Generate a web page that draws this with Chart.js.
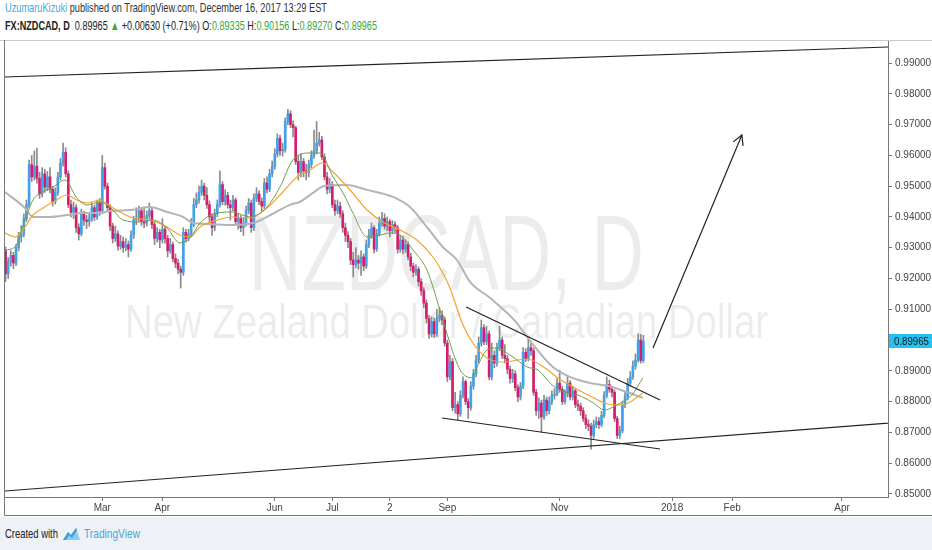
<!DOCTYPE html>
<html>
<head>
<meta charset="utf-8">
<script src="https://cdn.jsdelivr.net/npm/chart.js@4.4.0/dist/chart.umd.min.js"></script>
<style>
  html, body { margin:0; padding:0; background:#fff; }
  body { width:932px; height:550px; position:relative; overflow:hidden;
         font-family:"Liberation Sans",Arial,sans-serif; }
  .fit { position:absolute; white-space:nowrap; transform-origin:0 0; }
  #head1 { left:5px; top:0px; font-size:13px; color:#333; }
  #head2 { left:5px; top:18px; font-size:13px; color:#222; }
  .user { color:#4aa6dd; }
  .grn { color:#35a83a; }
  #box { position:absolute; left:0; top:40px; width:932px; height:477px; }
  #foot { position:absolute; left:0; top:517px; width:932px; height:33px; background:#eef1f6; }
  #madeWith { left:5px; top:9px; font-size:13px; color:#222; }
  #foot svg { position:absolute; left:62px; top:9px; }
  #tvName { left:84px; top:9px; font-size:13px; color:#4aa6dd; }
</style>
</head>
<body>
<div id="head1" class="fit"><span class="user">UzumaruKizuki</span> published on TradingView.com, December 16, 2017 13:29 EST</div>
<div id="head2" class="fit"><b>FX:NZDCAD, D</b>&nbsp; 0.89965 <span class="grn">&#9650;</span> +0.00630 (+0.71%) O:<span class="grn">0.89335</span> H:<span class="grn">0.90156</span> L:<span class="grn">0.89270</span> C:<span class="grn">0.89965</span></div>
<div id="box"><canvas id="myChart" width="932" height="477"></canvas></div>
<div id="foot">
  <span id="madeWith" class="fit">Created with</span>
  <svg width="19" height="15" viewBox="0 0 19 15"><path d="M1 14 L6 6 L9 9 L14 2 L18 14 Z" fill="#8fcaf0"/><path d="M1 14 L6 6 L9 9 L14 2 L15 4 L10 12 L7 9 L4 14 Z" fill="#3a9ee0"/></svg>
  <span id="tvName" class="fit">TradingView</span>
</div>
<script>
// daily candles, weekday index counted from 2 Jan 2017
var firstDay = 5
var opens = [
0.9290,0.9215,0.9255,0.9275,0.9250,0.9300,0.9335,0.9345,0.9395,0.9440,
0.9570,0.9530,0.9565,0.9525,0.9475,0.9540,0.9497,0.9530,0.9490,0.9450,
0.9480,0.9530,0.9575,0.9610,0.9540,0.9440,0.9415,0.9430,0.9365,0.9345,
0.9410,0.9390,0.9385,0.9395,0.9430,0.9400,0.9445,0.9420,0.9560,0.9500,
0.9430,0.9370,0.9330,0.9345,0.9305,0.9320,0.9300,0.9310,0.9295,0.9340,
0.9390,0.9395,0.9420,0.9385,0.9380,0.9405,0.9420,0.9375,0.9330,0.9350,
0.9325,0.9360,0.9330,0.9290,0.9310,0.9265,0.9250,0.9230,0.9220,0.9350,
0.9330,0.9345,0.9375,0.9440,0.9455,0.9480,0.9500,0.9470,0.9440,0.9400,
0.9365,0.9410,0.9440,0.9505,0.9450,0.9470,0.9440,0.9430,0.9455,0.9385,
0.9395,0.9365,0.9380,0.9420,0.9445,0.9365,0.9460,0.9475,0.9450,0.9435,
0.9510,0.9490,0.9540,0.9565,0.9605,0.9655,0.9615,0.9620,0.9710,0.9735,
0.9700,0.9690,0.9580,0.9545,0.9580,0.9550,0.9545,0.9570,0.9600,0.9615,
0.9640,0.9650,0.9595,0.9530,0.9490,0.9505,0.9440,0.9420,0.9435,0.9410,
0.9365,0.9340,0.9320,0.9260,0.9245,0.9260,0.9250,0.9270,0.9240,0.9310,
0.9340,0.9365,0.9295,0.9345,0.9380,0.9395,0.9370,0.9385,0.9355,0.9375,
0.9365,0.9295,0.9325,0.9295,0.9310,0.9270,0.9240,0.9220,0.9230,0.9190,
0.9160,0.9120,0.9070,0.9020,0.9060,0.9020,0.9070,0.9080,0.9065,0.8990,
0.8880,0.8930,0.8780,0.8790,0.8760,0.8820,0.8865,0.8800,0.8780,0.8850,
0.8890,0.8935,0.8990,0.9040,0.8995,0.9020,0.8880,0.8950,0.8925,0.8975,
0.9000,0.8950,0.8940,0.8905,0.8875,0.8890,0.8845,0.8815,0.8850,0.8960,
0.8940,0.8975,0.8965,0.8830,0.8770,0.8795,0.8750,0.8805,0.8770,0.8800,
0.8820,0.8825,0.8860,0.8840,0.8800,0.8825,0.8860,0.8815,0.8835,0.8790,
0.8785,0.8770,0.8745,0.8725,0.8720,0.8690,0.8725,0.8735,0.8725,0.8755,
0.8820,0.8855,0.8840,0.8830,0.8745,0.8690,0.8705,0.8790,0.8815,0.8860,
0.8880,0.8915,0.8935,0.9000,0.89335]
var highs = [
0.9302,0.9268,0.9290,0.9285,0.9310,0.9350,0.9372,0.9410,0.9455,0.9585,
0.9600,0.9615,0.9624,0.9545,0.9560,0.9555,0.9548,0.9560,0.9500,0.9495,
0.9545,0.9590,0.9640,0.9625,0.9550,0.9455,0.9448,0.9440,0.9378,0.9425,
0.9418,0.9405,0.9415,0.9445,0.9438,0.9455,0.9460,0.9600,0.9575,0.9510,
0.9440,0.9380,0.9370,0.9355,0.9340,0.9335,0.9330,0.9322,0.9355,0.9402,
0.9430,0.9435,0.9430,0.9432,0.9420,0.9445,0.9430,0.9385,0.9365,0.9360,
0.9395,0.9370,0.9340,0.9330,0.9318,0.9280,0.9262,0.9240,0.9365,0.9360,
0.9360,0.9395,0.9460,0.9478,0.9500,0.9520,0.9510,0.9495,0.9452,0.9410,
0.9425,0.9455,0.9550,0.9515,0.9488,0.9480,0.9455,0.9470,0.9462,0.9410,
0.9405,0.9398,0.9435,0.9460,0.9455,0.9475,0.9495,0.9485,0.9462,0.9525,
0.9530,0.9555,0.9582,0.9622,0.9670,0.9665,0.9640,0.9722,0.9750,0.9745,
0.9712,0.9695,0.9600,0.9605,0.9590,0.9572,0.9585,0.9615,0.9682,0.9710,
0.9675,0.9662,0.9605,0.9545,0.9525,0.9515,0.9455,0.9455,0.9448,0.9420,
0.9380,0.9352,0.9330,0.9285,0.9300,0.9275,0.9290,0.9280,0.9325,0.9360,
0.9380,0.9372,0.9360,0.9400,0.9415,0.9410,0.9400,0.9392,0.9388,0.9385,
0.9372,0.9340,0.9338,0.9325,0.9318,0.9282,0.9250,0.9245,0.9238,0.9200,
0.9170,0.9130,0.9080,0.9075,0.9072,0.9100,0.9105,0.9095,0.9075,0.9000,
0.8950,0.8940,0.8830,0.8800,0.8835,0.8880,0.8870,0.8810,0.8865,0.8905,
0.8950,0.9010,0.9065,0.9050,0.9045,0.9030,0.8990,0.8965,0.8990,0.9045,
0.9010,0.8985,0.8950,0.8915,0.8905,0.8900,0.8855,0.8862,0.8975,0.8972,
0.9010,0.8988,0.8975,0.8840,0.8812,0.8805,0.8820,0.8815,0.8815,0.8835,
0.8842,0.8875,0.8902,0.8850,0.8838,0.8880,0.8868,0.8850,0.8842,0.8805,
0.8795,0.8780,0.8758,0.8740,0.8730,0.8740,0.8750,0.8748,0.8768,0.8832,
0.8880,0.8870,0.8850,0.8838,0.8752,0.8720,0.8800,0.8830,0.8875,0.8898,
0.8932,0.8955,0.9020,0.9018,0.90156]
var lows = [
0.9190,0.9200,0.9240,0.9232,0.9242,0.9290,0.9318,0.9335,0.9385,0.9430,
0.9515,0.9520,0.9510,0.9460,0.9465,0.9480,0.9485,0.9478,0.9435,0.9442,
0.9470,0.9520,0.9565,0.9530,0.9430,0.9400,0.9395,0.9350,0.9325,0.9338,
0.9372,0.9362,0.9370,0.9385,0.9388,0.9392,0.9405,0.9410,0.9490,0.9420,
0.9355,0.9315,0.9320,0.9292,0.9295,0.9285,0.9290,0.9270,0.9288,0.9330,
0.9375,0.9385,0.9372,0.9365,0.9370,0.9395,0.9362,0.9310,0.9318,0.9300,
0.9315,0.9315,0.9270,0.9282,0.9255,0.9235,0.9215,0.9169,0.9210,0.9318,
0.9322,0.9335,0.9368,0.9430,0.9445,0.9470,0.9455,0.9428,0.9385,0.9340,
0.9355,0.9400,0.9432,0.9440,0.9438,0.9428,0.9390,0.9420,0.9375,0.9360,
0.9352,0.9340,0.9370,0.9410,0.9350,0.9355,0.9450,0.9440,0.9420,0.9428,
0.9478,0.9482,0.9530,0.9555,0.9595,0.9600,0.9598,0.9610,0.9700,0.9690,
0.9660,0.9570,0.9520,0.9530,0.9530,0.9520,0.9530,0.9560,0.9590,0.9605,
0.9630,0.9585,0.9520,0.9475,0.9478,0.9430,0.9405,0.9410,0.9398,0.9350,
0.9320,0.9300,0.9245,0.9205,0.9235,0.9230,0.9210,0.9225,0.9232,0.9300,
0.9330,0.9282,0.9288,0.9338,0.9370,0.9360,0.9355,0.9335,0.9345,0.9350,
0.9282,0.9285,0.9280,0.9285,0.9260,0.9225,0.9205,0.9210,0.9175,0.9145,
0.9105,0.9055,0.9005,0.9010,0.9008,0.9012,0.9060,0.9050,0.8980,0.8865,
0.8870,0.8770,0.8762,0.8740,0.8752,0.8812,0.8790,0.8745,0.8772,0.8840,
0.8880,0.8925,0.8980,0.8985,0.8985,0.8870,0.8870,0.8910,0.8915,0.8965,
0.8940,0.8925,0.8890,0.8860,0.8862,0.8835,0.8800,0.8805,0.8842,0.8930,
0.8932,0.8950,0.8820,0.8755,0.8745,0.8700,0.8742,0.8755,0.8760,0.8790,
0.8808,0.8818,0.8830,0.8790,0.8792,0.8815,0.8805,0.8805,0.8780,0.8770,
0.8755,0.8735,0.8712,0.8705,0.8645,0.8680,0.8715,0.8712,0.8718,0.8748,
0.8812,0.8830,0.8815,0.8735,0.8680,0.8680,0.8698,0.8780,0.8805,0.8850,
0.8872,0.8905,0.8928,0.8925,0.8927]
var closes = [
0.9215,0.9255,0.9275,0.9250,0.9300,0.9335,0.9345,0.9395,0.9440,0.9570,
0.9530,0.9565,0.9525,0.9475,0.9540,0.9497,0.9530,0.9490,0.9450,0.9480,
0.9530,0.9575,0.9610,0.9540,0.9440,0.9415,0.9430,0.9365,0.9345,0.9410,
0.9390,0.9385,0.9395,0.9430,0.9400,0.9445,0.9420,0.9560,0.9500,0.9430,
0.9370,0.9330,0.9345,0.9305,0.9320,0.9300,0.9310,0.9295,0.9340,0.9390,
0.9395,0.9420,0.9385,0.9380,0.9405,0.9420,0.9375,0.9330,0.9350,0.9325,
0.9360,0.9330,0.9290,0.9310,0.9265,0.9250,0.9230,0.9220,0.9350,0.9330,
0.9345,0.9375,0.9440,0.9455,0.9480,0.9500,0.9470,0.9440,0.9400,0.9365,
0.9410,0.9440,0.9505,0.9450,0.9470,0.9440,0.9430,0.9455,0.9385,0.9395,
0.9365,0.9380,0.9420,0.9445,0.9365,0.9460,0.9475,0.9450,0.9435,0.9510,
0.9490,0.9540,0.9565,0.9605,0.9655,0.9615,0.9620,0.9710,0.9735,0.9700,
0.9690,0.9580,0.9545,0.9580,0.9550,0.9545,0.9570,0.9600,0.9615,0.9640,
0.9650,0.9595,0.9530,0.9490,0.9505,0.9440,0.9420,0.9435,0.9410,0.9365,
0.9340,0.9320,0.9260,0.9245,0.9260,0.9250,0.9270,0.9240,0.9310,0.9340,
0.9365,0.9295,0.9345,0.9380,0.9395,0.9370,0.9385,0.9355,0.9375,0.9365,
0.9295,0.9325,0.9295,0.9310,0.9270,0.9240,0.9220,0.9230,0.9190,0.9160,
0.9120,0.9070,0.9020,0.9060,0.9020,0.9070,0.9080,0.9065,0.8990,0.8880,
0.8930,0.8780,0.8790,0.8760,0.8820,0.8865,0.8800,0.8780,0.8850,0.8890,
0.8935,0.8990,0.9040,0.8995,0.9020,0.8880,0.8950,0.8925,0.8975,0.9000,
0.8950,0.8940,0.8905,0.8875,0.8890,0.8845,0.8815,0.8850,0.8960,0.8940,
0.8975,0.8965,0.8830,0.8770,0.8795,0.8750,0.8805,0.8770,0.8800,0.8820,
0.8825,0.8860,0.8840,0.8800,0.8825,0.8860,0.8815,0.8835,0.8790,0.8785,
0.8770,0.8745,0.8725,0.8720,0.8690,0.8725,0.8735,0.8725,0.8755,0.8820,
0.8855,0.8840,0.8830,0.8745,0.8690,0.8705,0.8790,0.8815,0.8860,0.8880,
0.8915,0.8935,0.9000,0.89335,0.89965]

// moving averages (day index, value)
var fastX = [4.78,8.6,12.43,15.49,19.32,23.14,27.7,32.3,36.2,41.1,44.95,49.9,56.4,61.4,66.8,71.7,75.6,79.4,85.9,92.0,98.5,105.0,110.0,114.9,121.5,125.3,130.3,134.1,137.9,143.3,148.2,152.1,155.9,160.9,166.2,171.2,175.0,178.9,183.4,185.4,189.2,193.0,196.8,200.7,204.5,208.7,214.1,219.0,224.0,229.3,234.3,237.4,242.0,244.6,248.8]
var fastY = [0.92925,0.93023,0.939,0.9455,0.9481,0.94973,0.952,0.94615,0.94388,0.94485,0.9432,0.939,0.93835,0.939,0.9364,0.93153,0.93315,0.93803,0.94128,0.9416,0.93998,0.9432,0.94973,0.9585,0.96078,0.96078,0.95298,0.94778,0.94128,0.93348,0.93413,0.93478,0.93413,0.92925,0.92275,0.90975,0.89903,0.89028,0.8877,0.89123,0.89675,0.8974,0.89578,0.8935,0.89123,0.89025,0.88538,0.8831,0.88213,0.87985,0.87725,0.87823,0.8805,0.88213,0.88765]
var midX = [4.78,8.6,12.43,15.49,19.32,23.14,28.5,32.3,36.2,41.1,46.1,53.8,60.3,66.8,71.7,75.6,79.4,85.9,92.0,98.5,105.0,111.1,116.5,121.5,126.1,130.3,136.8,143.3,149.4,155.9,162.4,168.5,172.3,175.0,180.0,183.8,189.2,195.3,204.5,211.4,216.3,222.8,229.3,235.5,240.8,244.6,248.8]
var midY = [0.93478,0.93348,0.93673,0.94063,0.9429,0.94485,0.94713,0.9455,0.94453,0.9455,0.9429,0.93965,0.939,0.93673,0.93413,0.93348,0.93673,0.939,0.93998,0.93965,0.9429,0.9481,0.95298,0.95525,0.95753,0.9546,0.94875,0.94225,0.93835,0.93575,0.9325,0.92698,0.92178,0.9169,0.90488,0.89903,0.89415,0.89285,0.89383,0.8909,0.88765,0.8844,0.88148,0.8792,0.87888,0.88018,0.88278]
var slowX = [4.78,12.43,15.49,22.0,28.5,34.6,41.1,44.95,53.8,60.3,66.8,72.9,76.7,82.1,92.0,99.7,105.0,113.8,117.6,122.6,127.2,135.6,143.3,153.2,159.7,166.2,172.3,177.7,182.7,190.3,199.9,204.5,214.4,220.9,228.6,235.5,242.7,248.8]
var slowY = [0.9481,0.9429,0.94,0.94,0.9406,0.9413,0.9413,0.9419,0.9423,0.9432,0.9416,0.94,0.938,0.9377,0.9374,0.938,0.94,0.9439,0.9449,0.9478,0.9501,0.9504,0.9488,0.9465,0.9432,0.9367,0.9302,0.926,0.9189,0.9137,0.9062,0.901,0.8912,0.888,0.886,0.8851,0.8831,0.8812]

// drawn lines (day index, price)
var topLineX = [0, 350], topLineY = [0.98534, 0.99544]
var baseLineX = [0, 350], baseLineY = [0.85061, 0.87350]
var wedgeHiX = [181.2, 255.4], wedgeHiY = [0.91073, 0.88050]
var wedgeLoX = [172.0, 255.4], wedgeLoY = [0.87465, 0.86458]
var arrowX = [252.7, 286.7], arrowY = [0.89740, 0.96663]

var xTickPos = [42, 65, 108, 130, 152, 174, 217, 260, 283, 325]
var xTickText = ['Mar', 'Apr', 'Jun', 'Jul', '2', 'Sep', 'Nov', '2018', 'Feb', 'Apr']
var yTicks = [0.85, 0.86, 0.87, 0.88, 0.89, 0.91, 0.92, 0.93, 0.94, 0.95, 0.96, 0.97, 0.98, 0.99]
var xMin = 4.78, xMax = 342.6, yMin = 0.84898, yMax = 0.9975

var upColor = '#3fa2ea', downColor = '#d81b6a', wickColor = '#8a8a8a'
var narrow = '"Liberation Sans", Arial, sans-serif'

// squeeze html text to the widths of the condensed original
function fitText(id, w) {
  var el = document.getElementById(id)
  var r = el.getBoundingClientRect().width
  el.style.transform = 'scaleX(' + (w / r) + ')'
}
fitText('head1', 322)
fitText('head2', 372)
fitText('madeWith', 53)
fitText('tvName', 56)

function pts(xs, ys) {
  return xs.map(function (x, i) { return {x: x, y: ys[i]} })
}

var wickData = [], bodyData = [], bodyColors = []
for (var i = 0; i < closes.length; i++) {
  wickData.push({x: firstDay + i, y: [lows[i], highs[i]]})
  bodyData.push({x: firstDay + i, y: [opens[i], closes[i]]})
  bodyColors.push(closes[i] >= opens[i] ? upColor : downColor)
}

function lineSet(data, color, width, order) {
  return {type: 'line', data: data, borderColor: color, borderWidth: width, pointRadius: 0,
          fill: false, cubicInterpolationMode: 'monotone', order: order}
}

function drawFit(ctx, text, size, width, cx, base) {
  ctx.font = size + 'px ' + narrow
  var w = ctx.measureText(text).width
  ctx.save()
  ctx.translate(cx, base)
  ctx.scale(width / w, 1)
  ctx.fillText(text, 0, 0)
  ctx.restore()
}

var watermark = {
  id: 'watermark',
  beforeDatasetsDraw: function (chart) {
    var ctx = chart.ctx, a = chart.chartArea
    var cx = (a.left + a.right) / 2
    ctx.save()
    ctx.fillStyle = 'rgba(0,0,0,0.075)'
    ctx.textAlign = 'center'
    ctx.textBaseline = 'alphabetic'
    drawFit(ctx, 'NZDCAD, D', 108, 395, cx, 250)
    drawFit(ctx, 'New Zealand Dollar / Canadian Dollar', 49, 643, cx, 298)
    ctx.restore()
  }
}

var extras = {
  id: 'extras',
  afterDatasetsDraw: function (chart) {
    var ctx = chart.ctx, xs = chart.scales.x, ys = chart.scales.y
    var x0 = xs.getPixelForValue(arrowX[0]), y0 = ys.getPixelForValue(arrowY[0])
    var x1 = xs.getPixelForValue(arrowX[1]), y1 = ys.getPixelForValue(arrowY[1])
    var ang = Math.atan2(y1 - y0, x1 - x0)
    ctx.save()
    ctx.strokeStyle = '#222'
    ctx.lineWidth = 1.2
    ctx.beginPath()
    ctx.moveTo(x1 - 11 * Math.cos(ang - 0.5), y1 - 11 * Math.sin(ang - 0.5))
    ctx.lineTo(x1, y1)
    ctx.lineTo(x1 - 11 * Math.cos(ang + 0.5), y1 - 11 * Math.sin(ang + 0.5))
    ctx.stroke()
    ctx.restore()
  },
  afterDraw: function (chart) {
    var ctx = chart.ctx, a = chart.chartArea, ys = chart.scales.y
    ctx.save()
    ctx.strokeStyle = '#c9c9c9'
    ctx.lineWidth = 1
    ctx.beginPath()
    ctx.moveTo(0, 0.5); ctx.lineTo(932, 0.5)
    ctx.stroke()
    ctx.strokeStyle = '#777'
    ctx.beginPath()
    ctx.moveTo(a.left - 0.5, 0); ctx.lineTo(a.left - 0.5, a.bottom + 18.5)
    ctx.moveTo(a.left - 0.5, a.bottom + 18.5); ctx.lineTo(932, a.bottom + 18.5)
    ctx.stroke()
    // last price marker
    var last = closes[closes.length - 1]
    var py = Math.round(ys.getPixelForValue(last))
    ctx.fillStyle = '#27c1f1'
    ctx.fillRect(a.right + 1, py - 7, 932 - a.right - 1, 14)
    ctx.fillStyle = '#1a1a1a'
    ctx.textBaseline = 'middle'
    ctx.textAlign = 'left'
    drawFitLeft(ctx, last.toFixed(5), 11, 35, a.right + 6, py + 0.5)
    ctx.restore()
  }
}

function drawFitLeft(ctx, text, size, width, x, y) {
  ctx.font = size + 'px ' + narrow
  var w = ctx.measureText(text).width
  ctx.save()
  ctx.translate(x, y)
  ctx.scale(width / w, 1)
  ctx.fillText(text, 0, 0)
  ctx.restore()
}

new Chart('myChart', {
  type: 'bar',
  data: {
    datasets: [
      {type: 'bar', data: wickData, backgroundColor: wickColor, barThickness: 1, grouped: false, order: 20},
      {type: 'bar', data: bodyData, backgroundColor: bodyColors, barThickness: 2, minBarLength: 1, grouped: false, order: 19},
      lineSet(pts(slowX, slowY), '#b4b4b4', 2, 8),
      lineSet(pts(midX, midY), '#f6a32b', 1.2, 7),
      lineSet(pts(fastX, fastY), '#6f9f4a', 1, 6),
      lineSet(pts(topLineX, topLineY), '#222', 1.2, 2),
      lineSet(pts(baseLineX, baseLineY), '#222', 1.2, 2),
      lineSet(pts(wedgeHiX, wedgeHiY), '#222', 1.2, 2),
      lineSet(pts(wedgeLoX, wedgeLoY), '#222', 1.2, 2),
      lineSet(pts(arrowX, arrowY), '#222', 1.2, 2)
    ]
  },
  options: {
    responsive: false,
    animation: false,
    devicePixelRatio: 1,
    layout: {padding: {left: 5, top: 0, right: 0, bottom: 0}},
    plugins: {legend: {display: false}, tooltip: {enabled: false}},
    scales: {
      x: {
        type: 'linear', min: xMin, max: xMax, offset: false,
        grid: {display: true, drawOnChartArea: false, tickLength: 4, color: '#777', offset: false},
        border: {display: true, color: '#777'},
        ticks: {
          autoSkip: false, maxRotation: 0, padding: 1, color: '#444',
          font: {family: narrow, size: 10},
          callback: function (v) { var k = xTickPos.indexOf(v); return k < 0 ? '' : xTickText[k] }
        },
        afterBuildTicks: function (s) { s.ticks = xTickPos.map(function (v) { return {value: v} }) },
        afterFit: function (s) { s.height = 20; s.paddingLeft = 0; s.paddingRight = 0 }
      },
      y: {
        position: 'right', min: yMin, max: yMax,
        grid: {display: true, drawOnChartArea: false, tickLength: 4, color: '#777'},
        border: {display: true, color: '#777'},
        ticks: {
          padding: 3, color: '#444',
          font: {family: narrow, size: 10},
          callback: function (v) { return v.toFixed(5) }
        },
        afterBuildTicks: function (s) { s.ticks = yTicks.map(function (v) { return {value: v} }) },
        afterFit: function (s) { s.width = 44; s.paddingTop = 0; s.paddingBottom = 0 }
      }
    }
  },
  plugins: [watermark, extras]
})
</script>
</body>
</html>
